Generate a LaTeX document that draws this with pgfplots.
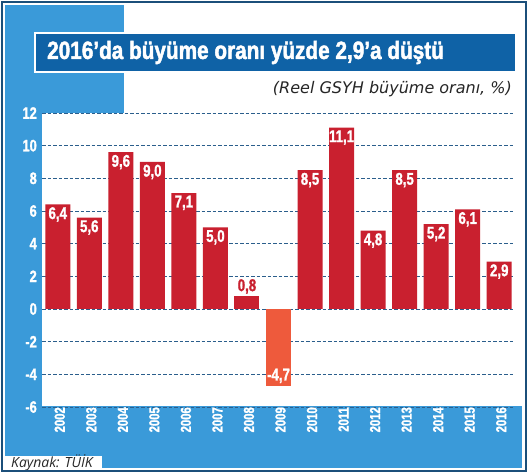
\documentclass[border=0pt]{standalone}
\usepackage{fontspec}
\usepackage{pgfplots}
\pgfplotsset{compat=1.18}
\setmainfont{Liberation Sans}
\newfontfamily\cond{Liberation Sans}[FakeStretch=0.78, FakeBold=1.2]
\newfontfamily\condt{Liberation Sans}[FakeStretch=0.83, FakeBold=1.8]
\newfontfamily\ital{Open Sans}
\newfontfamily\dvs{DejaVu Sans}
\definecolor{lblue}{HTML}{3A9AD9}
\definecolor{tblue}{HTML}{0F62A6}
\definecolor{frameblue}{HTML}{1B4F7A}
\definecolor{gridblue}{HTML}{2B5E8C}
\definecolor{barred}{HTML}{C9202F}
\definecolor{barorange}{HTML}{EE5A3C}
\begin{document}
\begin{tikzpicture}
\useasboundingbox (0pt,0pt) rectangle (529pt,473pt);
\fill[white] (0pt,0pt) rectangle (529pt,473pt);
\fill[lblue] (5pt,360pt) rectangle (124pt,468pt);
\fill[lblue] (5pt,66pt) rectangle (42pt,360pt);
\fill[lblue] (5pt,5pt) rectangle (522pt,67pt);
\fill[white] (5pt,3pt) rectangle (102pt,17pt);
\node[anchor=west, inner sep=0pt, text=black!85, font=\ital\itshape\fontsize{14}{14}\selectfont] at (11pt,10pt) {Kaynak: TÜİK};
\filldraw[fill=tblue, draw=white, line width=1.5pt] (35pt,401pt) rectangle (516pt,440pt);
\node[anchor=west, inner sep=0pt, text=white, font=\condt\bfseries\fontsize{25}{25}\selectfont] at (47pt,420.5pt) {2016’da büyüme oranı yüzde 2,9’a düştü};
\node[anchor=base east, inner sep=0pt, text=black!85, font=\dvs\itshape\fontsize{16}{16}\selectfont] at (512pt,379pt) {(Reel GSYH büyüme oranı, \%)};
\draw[frameblue, line width=2.5pt] (2pt,2pt) rectangle (526pt,471pt);
\begin{axis}[
  at={(42pt,66pt)}, anchor=south west, scale only axis,
  width=473pt, height=294pt,
  xmin=-0.5, xmax=14.5, ymin=-6, ymax=12,
  axis x line*=bottom, axis y line*=left,
  axis line style={draw=none},
  ytick={-6,-4,...,12},
  ymajorgrids,
  grid style={gridblue, line width=0.7pt, dash pattern=on 3.5pt off 2pt},
  ytick style={draw=none},
  /pgf/number format/assume math mode=true,
  yticklabel style={text=white, font=\cond\bfseries\fontsize{16.5}{16.5}\selectfont, inner sep=0pt, xshift=-5pt},
  xtick={0,...,14},
  xticklabels={2002,2003,2004,2005,2006,2007,2008,2009,2010,2011,2012,2013,2014,2015,2016},
  xtick style={draw=none},
  xticklabel style={rotate=90, anchor=east, text=white, font=\cond\bfseries\fontsize{14.5}{14.5}\selectfont, inner sep=0pt, yshift=-2pt},
  minor xtick={-0.5,0.5,...,14.5},
  minor x tick style={gridblue, line width=0.8pt},
  minor tick length=8pt,
  tick align=inside,
  clip=false,
]
\addplot[ybar, bar width=25pt, bar shift=0pt, fill=barred, draw=none,
  nodes near coords={\pgfmathprintnumber[fixed,fixed zerofill,precision=1,use comma]{\pgfplotspointmeta}},
  nodes near coords style={anchor=north, yshift=-2.5pt, inner sep=0pt, text=white, font=\cond\bfseries\fontsize{17}{17}\selectfont}]
coordinates {(0,6.4) (1,5.6) (2,9.6) (3,9.0) (4,7.1) (5,5.0) (8,8.5) (9,11.1) (10,4.8) (11,8.5) (12,5.2) (13,6.1) (14,2.9)};
\addplot[ybar, bar width=25pt, bar shift=0pt, fill=barred, draw=none,
  nodes near coords={\pgfmathprintnumber[fixed,fixed zerofill,precision=1,use comma]{\pgfplotspointmeta}},
  nodes near coords style={anchor=south, yshift=2pt, inner sep=0pt, text=barred, font=\cond\bfseries\fontsize{17}{17}\selectfont}]
coordinates {(6,0.8)};
\addplot[ybar, bar width=25pt, bar shift=0pt, fill=barorange, draw=none,
  nodes near coords={\pgfmathprintnumber[fixed,fixed zerofill,precision=1,use comma]{\pgfplotspointmeta}},
  nodes near coords style={anchor=south, yshift=2.5pt, inner sep=0pt, text=white, font=\cond\bfseries\fontsize{17}{17}\selectfont}]
coordinates {(7,-4.7)};
\end{axis}
\end{tikzpicture}
\end{document}
